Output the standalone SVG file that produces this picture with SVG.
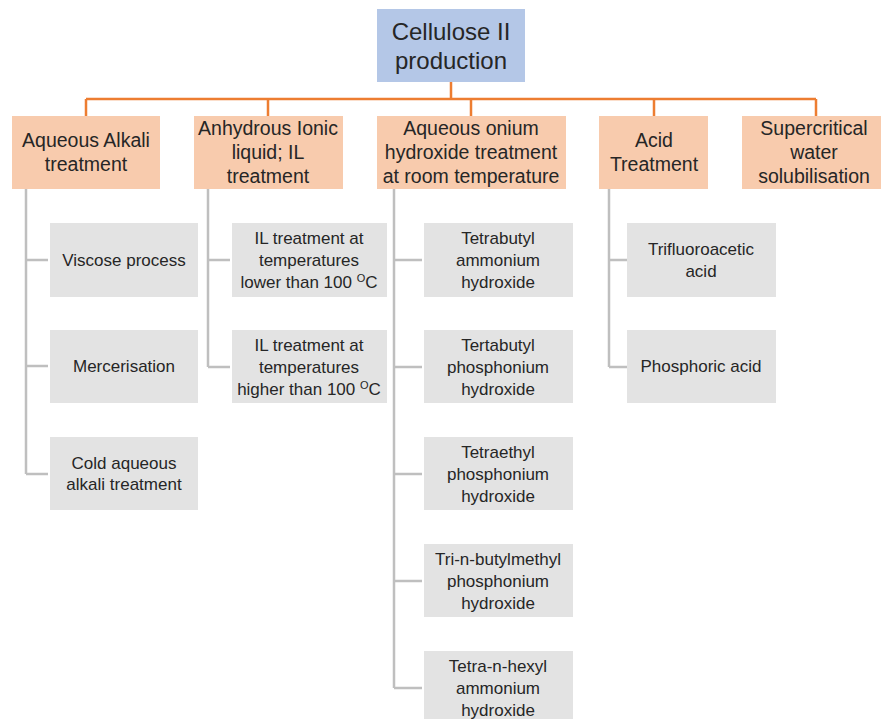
<svg xmlns="http://www.w3.org/2000/svg" width="881" height="719" viewBox="0 0 881 719">
<style>
text{font-family:"Liberation Sans",Arial,sans-serif;fill:#262626;text-anchor:middle}
.root rect{fill:#b4c7e7}
.root text{font-size:24px}
.l1 rect{fill:#f8cbad}
.l1 text{font-size:19.5px}
.l2 rect{fill:#e3e3e3}
.l2 text{font-size:17px}
.or{stroke:#ed7d31;stroke-width:2.5;fill:none}
.gr{stroke:#bfbfbf;stroke-width:2.5;fill:none}
.sup{font-size:11px}
</style>
<rect width="881" height="719" fill="#fff"/>
<g id="connectors">
<path class="or" d="M451 82V99M86 99H816M86 99V116M268 99V116M471 99V116M654 99V116M816 99V116"/>
<path class="gr" d="M26 189V474M26 260H48M26 366H48M26 474H48"/>
<path class="gr" d="M208 189V367M208 260H230M208 367H230"/>
<path class="gr" d="M394 189V688M394 260H422M394 367H422M394 474H422M394 581H422M394 688H422"/>
<path class="gr" d="M609 189V367M609 260H627M609 367H627"/>
</g>
<g id="root" class="root"><rect x="377" y="9" width="148" height="73"/><text x="451" y="40">Cellulose II</text><text x="451" y="69">production</text></g>
<g id="aqueous-alkali" class="l1"><rect x="12" y="116" width="148" height="73"/><text x="86" y="147">Aqueous Alkali</text><text x="86" y="171">treatment</text></g>
<g id="ionic-liquid" class="l1"><rect x="194" y="116" width="149" height="73"/><text x="268" y="135">Anhydrous Ionic</text><text x="268" y="159">liquid; IL</text><text x="268" y="183">treatment</text></g>
<g id="onium" class="l1"><rect x="377" y="116" width="189" height="73"/><text x="471" y="135">Aqueous onium</text><text x="471" y="159">hydroxide treatment</text><text x="471" y="183">at room temperature</text></g>
<g id="acid" class="l1"><rect x="599" y="116" width="109" height="73"/><text x="654" y="147">Acid</text><text x="654" y="171">Treatment</text></g>
<g id="supercritical" class="l1"><rect x="742" y="116" width="139" height="73"/><text x="814" y="135">Supercritical</text><text x="814" y="159">water</text><text x="814" y="183">solubilisation</text></g>
<g id="viscose" class="l2"><rect x="50" y="223" width="148" height="74"/><text x="124" y="266">Viscose process</text></g>
<g id="mercerisation" class="l2"><rect x="50" y="330" width="148" height="73"/><text x="124" y="372">Mercerisation</text></g>
<g id="cold-alkali" class="l2"><rect x="50" y="437" width="148" height="73"/><text x="124" y="469">Cold aqueous</text><text x="124" y="490">alkali treatment</text></g>
<g id="il-lower" class="l2"><rect x="232" y="223" width="155" height="74"/><text x="309" y="244">IL treatment at</text><text x="309" y="266">temperatures</text><text x="309" y="288">lower than 100 <tspan class="sup" dy="-6">O</tspan><tspan dy="6">C</tspan></text></g>
<g id="il-higher" class="l2"><rect x="232" y="330" width="155" height="73"/><text x="309" y="351">IL treatment at</text><text x="309" y="373">temperatures</text><text x="309" y="395">higher than 100 <tspan class="sup" dy="-6">O</tspan><tspan dy="6">C</tspan></text></g>
<g id="tetrabutyl-ammonium" class="l2"><rect x="424" y="223" width="149" height="74"/><text x="498" y="244">Tetrabutyl</text><text x="498" y="266">ammonium</text><text x="498" y="288">hydroxide</text></g>
<g id="tertabutyl-phosphonium" class="l2"><rect x="424" y="330" width="149" height="73"/><text x="498" y="351">Tertabutyl</text><text x="498" y="373">phosphonium</text><text x="498" y="395">hydroxide</text></g>
<g id="tetraethyl-phosphonium" class="l2"><rect x="424" y="437" width="149" height="73"/><text x="498" y="458">Tetraethyl</text><text x="498" y="480">phosphonium</text><text x="498" y="502">hydroxide</text></g>
<g id="tributylmethyl-phosphonium" class="l2"><rect x="424" y="544" width="149" height="73"/><text x="498" y="565">Tri-n-butylmethyl</text><text x="498" y="587">phosphonium</text><text x="498" y="609">hydroxide</text></g>
<g id="tetrahexyl-ammonium" class="l2"><rect x="424" y="651" width="149" height="74"/><text x="498" y="672">Tetra-n-hexyl</text><text x="498" y="694">ammonium</text><text x="498" y="716">hydroxide</text></g>
<g id="trifluoroacetic" class="l2"><rect x="627" y="223" width="149" height="74"/><text x="701" y="255">Trifluoroacetic</text><text x="701" y="277">acid</text></g>
<g id="phosphoric" class="l2"><rect x="627" y="330" width="149" height="73"/><text x="701" y="372">Phosphoric acid</text></g>
</svg>
